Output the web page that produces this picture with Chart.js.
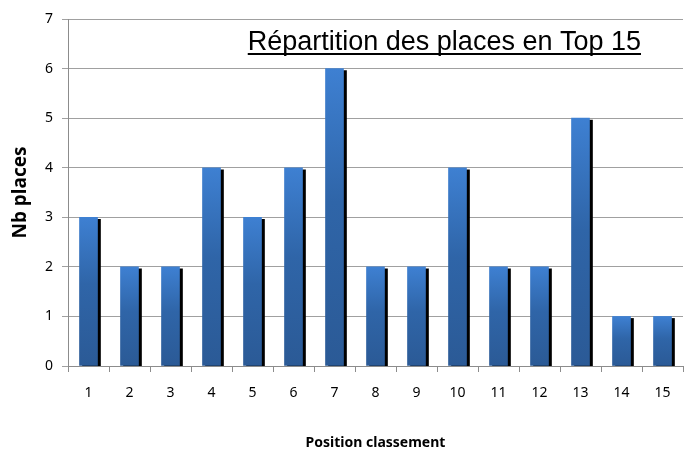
<!DOCTYPE html>
<html>
<head>
<meta charset="utf-8">
<script src="https://cdn.jsdelivr.net/npm/chart.js@4/dist/chart.umd.min.js"></script>
<style>
  html, body { margin: 0; padding: 0; background: #fff; }
  #wrap { width: 685px; height: 454px; }
</style>
</head>
<body>
<div id="wrap"><canvas id="chartTop15"></canvas></div>
<script>
// donnees
const positions = ['1','2','3','4','5','6','7','8','9','10','11','12','13','14','15'];
const nbPlaces = [3, 2, 2, 4, 3, 4, 6, 2, 2, 4, 2, 2, 5, 1, 1];
const yTicks = [0, 1, 2, 3, 4, 5, 6, 7];
const chartTitle = 'Répartition des places en Top 15';

const tickFont = { family: 'Noto Sans', size: 14 };

// ombre noire decalee derriere chaque barre
const shadowPlugin = {
    id: 'barShadow',
    beforeDatasetsDraw(chart) {
        const ctx = chart.ctx;
        ctx.save();
        ctx.shadowColor = '#000';
        ctx.shadowOffsetX = 3;
        ctx.shadowOffsetY = 2;
        ctx.shadowBlur = 0;
    },
    afterDatasetsDraw(chart) {
        chart.ctx.restore();
    }
};

// titre souligne dans la zone du graphique
const titlePlugin = {
    id: 'underlinedTitle',
    afterDraw(chart) {
        const ctx = chart.ctx;
        ctx.save();
        ctx.font = '27px "Liberation Sans", Arial, sans-serif';
        ctx.fillStyle = '#000';
        ctx.textAlign = 'right';
        ctx.textBaseline = 'alphabetic';
        const xr = 641, yb = 50;
        ctx.fillText(chartTitle, xr, yb);
        const w = ctx.measureText(chartTitle).width;
        ctx.fillRect(xr - w, yb + 3, w, 2);
        ctx.restore();
    }
};

var ctxTop = document.getElementById('chartTop15').getContext('2d');
var chartTop = new Chart(ctxTop, {
    type: 'bar',
    data: {
        labels: positions,
        datasets: [{
            label: 'Nb places',
            data: nbPlaces,
            barThickness: 18,
            backgroundColor: function(context) {
                const chart = context.chart;
                const y = chart.scales.y;
                if (!chart.chartArea || !y) return '#3572bd';
                const top = y.getPixelForValue(context.raw);
                const bottom = y.getPixelForValue(0);
                if (!isFinite(top) || bottom - top < 1) return '#3572bd';
                const g = chart.ctx.createLinearGradient(0, top, 0, bottom);
                g.addColorStop(0, '#3e80d2');
                g.addColorStop(0.45, '#2f65a8');
                g.addColorStop(1, '#2b5a96');
                return g;
            },
            borderWidth: 0
        }]
    },
    options: {
        responsive: true,
        maintainAspectRatio: false,
        animation: false,
        layout: { padding: { left: 0, right: 2, top: 19, bottom: 0 } },
        plugins: {
            legend: { display: false },
            tooltip: { enabled: false },
            title: { display: false }
        },
        scales: {
            x: {
                offset: true,
                grid: {
                    offset: true,
                    drawOnChartArea: false,
                    tickLength: 6,
                    color: '#8c8c8c'
                },
                border: { color: '#8c8c8c' },
                ticks: { color: '#000', font: tickFont, padding: 13 },
                title: {
                    display: true,
                    text: 'Position classement',
                    color: '#000',
                    font: { family: 'Noto Sans', size: 14, weight: 'bold' },
                    padding: { top: 20, bottom: 3 }
                },
                afterFit: function(s) { s.height = 88; }
            },
            y: {
                min: 0,
                max: 7,
                afterBuildTicks: function(s) { s.ticks = yTicks.map(v => ({ value: v })); },
                grid: { color: '#a0a0a0', tickLength: 6 },
                border: { color: '#8c8c8c' },
                ticks: { color: '#000', font: tickFont, padding: 9 },
                title: {
                    display: true,
                    text: 'Nb places',
                    color: '#000',
                    font: { family: 'Noto Sans', size: 19, weight: 'bold' },
                    padding: { top: 9, bottom: 2 }
                },
                afterFit: function(s) { s.width = 68; }
            }
        }
    },
    plugins: [shadowPlugin, titlePlugin]
});
</script>
</body>
</html>
